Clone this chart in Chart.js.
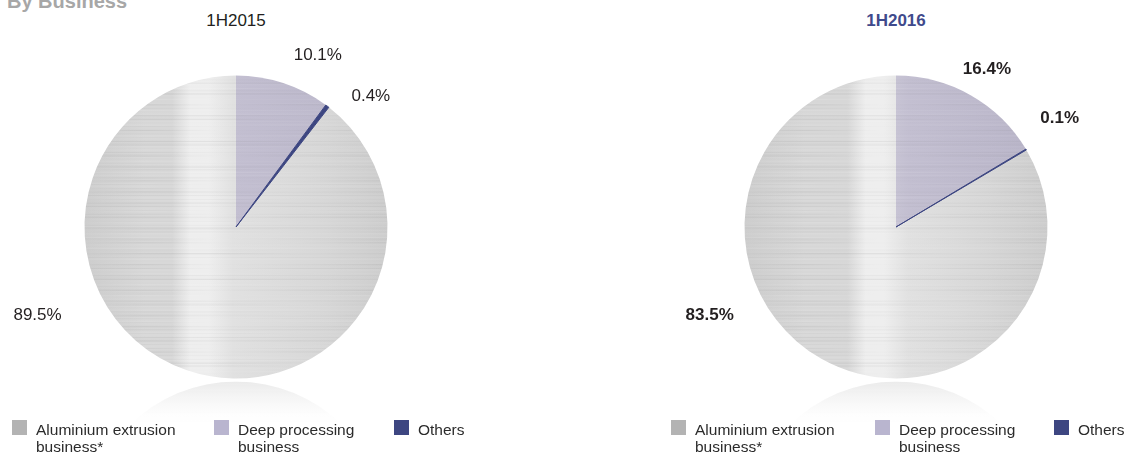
<!DOCTYPE html>
<html>
<head>
<meta charset="utf-8">
<script src="https://cdn.jsdelivr.net/npm/chart.js@4/dist/chart.umd.min.js"></script>
<style>
  body { margin: 0; width: 1131px; height: 456px; background: #fff; position: relative; overflow: hidden;
         font-family: "Liberation Sans", Arial, sans-serif; color: #231f20; }
  canvas { position: absolute; top: 0; }
  .section { position: absolute; left: 7px; top: -9px; font-size: 20px; font-weight: bold; color: #a7a7a7; line-height: 20px; }
  .period { position: absolute; top: 12px; width: 200px; margin-left: -100px; text-align: center; font-size: 17px; line-height: 17px; }
  .period.current { font-weight: bold; color: #3f4a8c; }
  .item { position: absolute; top: 420px; font-size: 15.5px; line-height: 17px; color: #2b2b2b; }
  .item i { position: absolute; left: 0; top: 0; width: 15px; height: 15px; }
  .item span { position: absolute; left: 24px; top: 1px; white-space: nowrap; }
</style>
</head>
<body>
<div class="section">By Business</div>
<div class="period" style="left:236px">1H2015</div>
<div class="period current" style="left:896px">1H2016</div>
<canvas id="pie2015" width="560" height="456" style="left:0"></canvas>
<canvas id="pie2016" width="571" height="456" style="left:560px"></canvas>
<div id="legends"></div>
<script>
// segments, in legend order
const categories = ['Aluminium extrusion\nbusiness*', 'Deep processing\nbusiness', 'Others'];
const share2015 = [89.5, 10.1, 0.4];
const share2016 = [83.5, 16.4, 0.1];

const SWATCH = ['#b3b3b3', '#b9b5cf', '#3d4681'];
const LABEL_COLOR = '#231f20';

// brushed-metal fill for a slice: base tone, a soft bright vertical band, horizontal streaks
function metalFill(canvas, cx, r, tones) {
  const off = document.createElement('canvas');
  off.width = canvas.width;
  off.height = canvas.height;
  const g = off.getContext('2d');
  const left = cx - r, w = 2 * r;
  const b = tones.band;
  const grad = g.createLinearGradient(left, 0, left + w, 0);
  grad.addColorStop(0, tones.dark);
  grad.addColorStop(0.2, tones.base);
  grad.addColorStop(b - 0.08, tones.base);
  grad.addColorStop(b - 0.02, tones.light);
  grad.addColorStop(b + 0.04, tones.light);
  grad.addColorStop(b + 0.12, tones.mid);
  grad.addColorStop(0.8, tones.base);
  grad.addColorStop(1, tones.dark);
  g.fillStyle = grad;
  g.fillRect(0, 0, off.width, off.height);

  for (let y = 0; y < off.height; y++) {
    const s = Math.sin(y * 1.73) * 0.45 + Math.sin(y * 0.51 + 1.3) * 0.35 + Math.sin(y * 3.37 + 0.7) * 0.2;
    const a = Math.abs(s) * 0.12;
    const tint = s > 0 ? '255,255,255' : '110,110,110';
    const sg = g.createLinearGradient(left, 0, left + w, 0);
    const f1 = 0.5 + 0.5 * Math.sin(y * 0.23);
    const f2 = 0.5 + 0.5 * Math.sin(y * 0.61 + 2.1);
    sg.addColorStop(0, `rgba(${tint},${a * f2})`);
    sg.addColorStop(0.2, `rgba(${tint},${a})`);
    sg.addColorStop(0.45, `rgba(${tint},${a * f1})`);
    sg.addColorStop(0.7, `rgba(${tint},${a * f2})`);
    sg.addColorStop(1, `rgba(${tint},${a * (1 - f1 * 0.5)})`);
    g.fillStyle = sg;
    g.fillRect(left, y, w, 1);
  }
  return canvas.getContext('2d').createPattern(off, 'no-repeat');
}

// faint mirror image of the disc under the pie
const reflectionPlugin = {
  id: 'reflection',
  beforeDatasetsDraw(chart) {
    const arc = chart.getDatasetMeta(0).data[0];
    if (!arc) return;
    const { x, y, outerRadius: r } = arc.getProps(['x', 'y', 'outerRadius'], true);
    const top = y + r + 3;
    const ctx = chart.ctx;
    ctx.save();
    const grad = ctx.createLinearGradient(0, top, 0, top + 45);
    grad.addColorStop(0, 'rgba(226,226,226,0.7)');
    grad.addColorStop(0.5, 'rgba(240,240,240,0.45)');
    grad.addColorStop(1, 'rgba(255,255,255,0)');
    ctx.beginPath();
    ctx.rect(x - r, top, 2 * r, 45);
    ctx.clip();
    ctx.beginPath();
    ctx.arc(x, top + r, r, 0, Math.PI * 2);
    ctx.fillStyle = grad;
    ctx.fill();
    ctx.restore();
  }
};

// percentage labels around the disc, offsets in units of the radius
const sliceLabelsPlugin = {
  id: 'sliceLabels',
  afterDatasetsDraw(chart, _args, opts) {
    const meta = chart.getDatasetMeta(0);
    const values = chart.data.datasets[0].data;
    const ctx = chart.ctx;
    ctx.save();
    ctx.font = `${opts.bold ? 'bold ' : ''}17px "Liberation Sans", Arial, sans-serif`;
    ctx.fillStyle = LABEL_COLOR;
    ctx.textAlign = 'center';
    ctx.textBaseline = 'middle';
    meta.data.forEach((arc, i) => {
      const { x, y, outerRadius } = arc.getProps(['x', 'y', 'outerRadius'], true);
      const [dx, dy] = opts.offsets[i];
      ctx.fillText(values[i].toFixed(1) + '%', x + dx * outerRadius, y + dy * outerRadius);
    });
    ctx.restore();
  }
};

function renderPie(canvasId, values, padding, labelOpts) {
  const canvas = document.getElementById(canvasId);
  const r = 152;
  const cx = padding.left + r;
  const grey = metalFill(canvas, cx, r, { dark: '#cdcdcd', base: '#d7d7d7', light: '#eeeeee', mid: '#e1e1e1', band: labelOpts.band });
  const lilac = metalFill(canvas, cx, r, { dark: '#b7b3c7', base: '#bdb9cc', light: '#cbc8d7', mid: '#c3bfd1', band: labelOpts.band });
  // start the second segment at twelve o'clock
  const rotation = -values[0] / 100 * 360;

  return new Chart(canvas, {
    type: 'pie',
    plugins: [reflectionPlugin, sliceLabelsPlugin],
    data: {
      labels: categories,
      datasets: [{
        data: values,
        backgroundColor: [grey, lilac, SWATCH[2]],
        borderColor: ['rgba(0,0,0,0)', 'rgba(0,0,0,0)', SWATCH[2]],
        borderWidth: [0, 0, 1],
      }],
    },
    options: {
      responsive: false,
      animation: false,
      rotation,
      layout: { padding },
      plugins: {
        legend: { display: false },
        tooltip: { enabled: false },
        sliceLabels: labelOpts,
      },
    },
  });
}

renderPie('pie2015', share2015, { left: 84, right: 172, top: 75, bottom: 77 }, {
  bold: false,
  band: 0.37,
  offsets: [[-1.31, 0.58], [0.54, -1.13], [0.89, -0.86]],
});
renderPie('pie2016', share2016, { left: 184, right: 83, top: 75, bottom: 77 }, {
  bold: true,
  band: 0.42,
  offsets: [[-1.23, 0.58], [0.60, -1.04], [1.08, -0.72]],
});

// legend rows under each pie
const legendLefts = [[12, 214, 394], [671, 875, 1054]];
const legends = document.getElementById('legends');
legendLefts.forEach(row => {
  row.forEach((left, i) => {
    const item = document.createElement('div');
    item.className = 'item';
    item.style.left = left + 'px';
    item.innerHTML = `<i style="background:${SWATCH[i]}"></i><span>${categories[i].replace('\n', '<br>')}</span>`;
    legends.appendChild(item);
  });
});
</script>
</body>
</html>
